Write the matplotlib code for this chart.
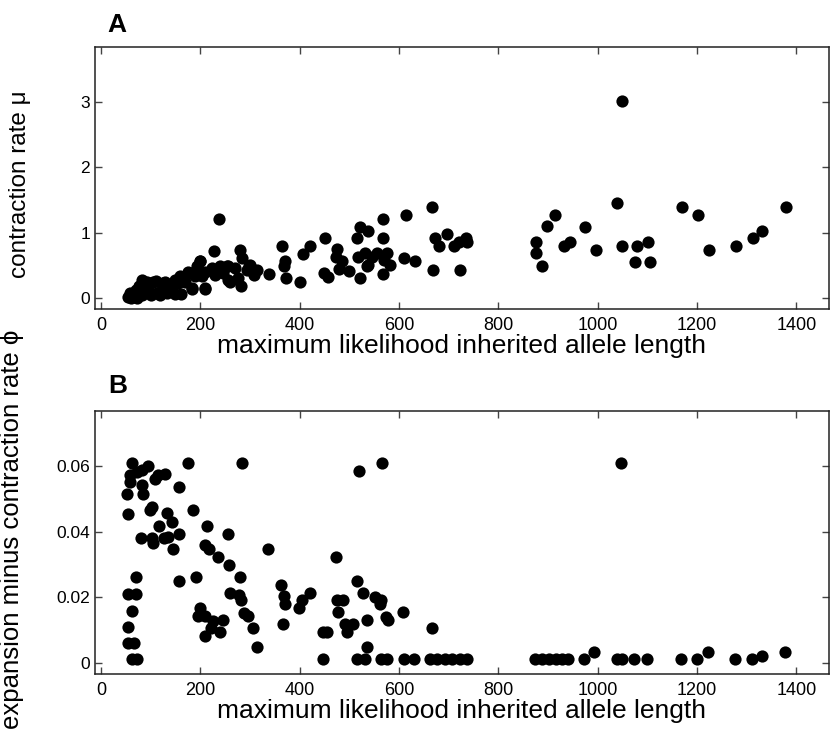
import numpy as np
import matplotlib
matplotlib.use("Agg")
import matplotlib.pyplot as plt

plt.rcParams['font.family'] = ['Liberation Sans', 'DejaVu Sans']

# panel A: contraction rate mu vs inherited allele length
len_a = [55, 60, 68, 72, 82, 63, 70, 95, 82, 88, 105, 112, 120, 129, 132, 140, 149, 149,
         159, 162, 176, 183, 179, 100, 125, 170, 190, 58, 76, 92, 110, 118, 138, 155, 165,
         193, 200, 203, 209, 223, 228, 238, 240, 256, 256, 259, 279, 283, 282, 294, 297,
         300, 307, 314, 210, 230, 245, 270, 275, 199, 183, 210, 253,
         339, 364, 369, 371, 373, 401, 406, 421, 451, 448, 456,
         476, 473, 485, 480, 500, 516, 522, 537, 522, 518, 532, 538, 545, 535, 555, 567,
         567, 569, 575, 582, 567, 609, 613, 633,
         667, 673, 680, 696, 710, 720, 735, 737, 668, 723,
         876, 876, 888, 898, 913, 933, 945, 974, 996, 1038, 1048, 1049, 1074, 1078, 1101,
         1105, 1170, 1201, 1223, 1279, 1312, 1331, 1379]
mu = [0.01, 0.0, 0.02, 0.0, 0.05, 0.03, 0.12, 0.15, 0.28, 0.25, 0.25, 0.07, 0.10, 0.25,
      0.07, 0.20, 0.28, 0.06, 0.34, 0.06, 0.39, 0.13, 0.38, 0.05, 0.22, 0.25, 0.33, 0.08,
      0.18, 0.24, 0.26, 0.05, 0.10, 0.22, 0.30,
      0.48, 0.56, 0.34, 0.13, 0.45, 0.72, 1.21, 0.48, 0.48, 0.28, 0.25, 0.73, 0.61, 0.18,
      0.42, 0.48, 0.51, 0.35, 0.43, 0.40, 0.35, 0.38, 0.45, 0.30, 0.57, 0.15, 0.15, 0.48,
      0.37, 0.80, 0.48, 0.56, 0.31, 0.25, 0.67, 0.80, 0.91, 0.38, 0.32,
      0.75, 0.62, 0.56, 0.44, 0.41, 0.91, 1.09, 1.03, 0.30, 0.63, 0.68, 0.51, 0.63, 0.48,
      0.68, 1.21, 0.91, 0.58, 0.68, 0.51, 0.37, 0.61, 1.27, 0.56,
      1.39, 0.91, 0.79, 0.98, 0.79, 0.86, 0.91, 0.86, 0.43, 0.43,
      0.86, 0.68, 0.49, 1.10, 1.27, 0.80, 0.85, 1.09, 0.73, 1.45, 3.02, 0.80, 0.55, 0.80,
      0.85, 0.55, 1.39, 1.27, 0.73, 0.80, 0.91, 1.03, 1.39]

# panel B: expansion minus contraction rate phi
len_b = [63, 95, 82, 72, 58, 58, 115, 128, 109, 83, 84, 53, 157, 176, 54, 102, 99, 132,
         142, 117, 81, 103, 105, 126, 134, 157, 144, 70, 55, 70, 62, 55, 55, 67, 63, 72,
         158, 192, 185, 214, 255, 210, 218, 236, 258, 337, 280, 260, 277, 281, 287, 295,
         305, 314, 199, 196, 210, 226, 246, 222, 240, 210, 283,
         362, 369, 371, 367, 420, 404, 399, 447, 455, 447, 475, 487, 478, 492, 507, 496,
         515, 528, 552, 563, 562, 535, 574, 577, 607, 666, 535, 520, 565, 473,
         515, 532, 564, 575, 610, 631, 663, 676, 693, 706, 722, 737,
         874, 888, 901, 915, 928, 941, 972, 993, 1039, 1049, 1047, 1072, 1100, 1168, 1200,
         1221, 1276, 1311, 1330, 1377]
phi = [0.061, 0.060, 0.0587, 0.0582, 0.0572, 0.0552, 0.0572, 0.0575, 0.0559, 0.0542,
       0.0514, 0.0514, 0.0537, 0.0608, 0.0454, 0.0476, 0.0466, 0.0456, 0.043, 0.0417,
       0.0381, 0.0381, 0.0366, 0.0381, 0.0383, 0.0393, 0.0347, 0.0261, 0.021, 0.021,
       0.0159, 0.011, 0.0062, 0.0062, 0.0011, 0.0011,
       0.025, 0.0263, 0.0466, 0.0418, 0.0393, 0.0359, 0.0346, 0.0322, 0.0297, 0.0346,
       0.0263, 0.0214, 0.0206, 0.019, 0.0153, 0.0143, 0.0106, 0.0047, 0.0166, 0.0144,
       0.0143, 0.0126, 0.0131, 0.0106, 0.0095, 0.0083, 0.061,
       0.0237, 0.0204, 0.018, 0.0119, 0.0214, 0.0192, 0.0166, 0.0095, 0.0095, 0.0011,
       0.019, 0.019, 0.0154, 0.0119, 0.0119, 0.0095, 0.025, 0.0214, 0.0202, 0.0192,
       0.018, 0.0131, 0.0141, 0.0131, 0.0154, 0.0106, 0.0048, 0.0585, 0.061, 0.0322,
       0.0011, 0.0011, 0.0011, 0.0011, 0.0011, 0.0011, 0.0011, 0.0011, 0.0011, 0.0011,
       0.0011, 0.0011,
       0.0011, 0.0011, 0.0011, 0.0011, 0.0011, 0.0011, 0.0011, 0.0034, 0.0011, 0.0011,
       0.061, 0.0011, 0.0011, 0.0011, 0.0011, 0.0034, 0.0011, 0.0011, 0.0021, 0.0034]

x_ticks = [0, 200, 400, 600, 800, 1000, 1200, 1400]
mu_ticks = [0, 1, 2, 3]
phi_ticks = [0, 0.02, 0.04, 0.06]
phi_ticklabels = ['0', '0.02', '0.04', '0.06']

fig = plt.figure(figsize=(8.3, 7.49), dpi=100)
axA = fig.add_axes([0.1145, 0.5875, 0.884, 0.3498])
axB = fig.add_axes([0.1145, 0.1001, 0.884, 0.3511])

for ax, xs, ys in [(axA, len_a, mu), (axB, len_b, phi)]:
    ax.plot(xs, ys, 'o', color='black', markersize=8.8, markeredgewidth=0)
    ax.set_xlim(-12, 1465)
    ax.set_xticks(x_ticks)
    ax.tick_params(direction='in', length=5, width=1, color='#444444',
                   top=True, right=True, labelsize=12.5)
    ax.tick_params(axis='x', pad=6, labelsize=13)
    ax.set_xlabel('maximum likelihood inherited allele length', fontsize=19, labelpad=0)
    for s in ax.spines.values():
        s.set_linewidth(1.1)
        s.set_color('#222222')

axA.set_ylim(-0.17, 3.84)
axA.set_yticks(mu_ticks)
axB.set_ylim(-0.0034, 0.0767)
axB.set_yticks(phi_ticks)
axB.set_yticklabels(phi_ticklabels)

fig.text(0.024, 1 - 184 / 749, 'contraction rate \u03bc', rotation=90,
         ha='center', va='center', fontsize=17.5)
fig.text(0.015, 1 - 330 / 749, 'expansion minus contraction rate \u03d5', rotation=90,
         ha='center', va='top', fontsize=18.5)
fig.text(117 / 830, 1 - 25 / 749, 'A', fontsize=19, fontweight='bold', ha='center', va='center')
fig.text(118 / 830, 1 - 386 / 749, 'B', fontsize=19, fontweight='bold', ha='center', va='center')

fig.savefig('out.png', dpi=100)
